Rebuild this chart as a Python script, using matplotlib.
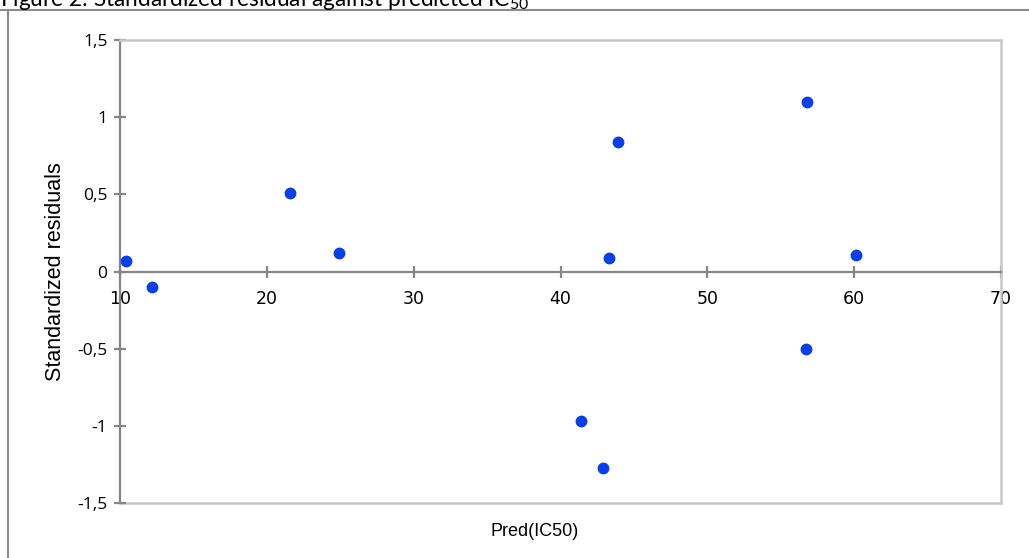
import matplotlib
matplotlib.use("Agg")
import matplotlib.pyplot as plt
from matplotlib.lines import Line2D

pred_ic50 = [10.4, 12.2, 21.6, 24.9, 41.4, 43.3, 42.9, 43.9, 56.8, 56.7, 60.1]
std_resid = [0.07, -0.10, 0.51, 0.12, -0.97, 0.09, -1.27, 0.84, 1.10, -0.50, 0.11]
x_ticks = [10, 20, 30, 40, 50, 60, 70]
y_ticks = [-1.5, -1, -0.5, 0, 0.5, 1, 1.5]
y_tick_labels = ["-1,5", "-1", "-0,5", "0", "0,5", "1", "1,5"]

W, H = 1029, 558
fig = plt.figure(figsize=(W / 100, H / 100), dpi=100)
ax = fig.add_axes([120 / W, 1 - 503 / H, (1001 - 120) / W, (503 - 40) / H])

ax.plot(pred_ic50, std_resid, "o", color="#0a3fe6", markersize=7.5, clip_on=False, zorder=5)

ax.set_xlim(10, 70)
ax.set_ylim(-1.5, 1.5)

axis_grey = "#868686"
border_grey = "#c8c8c8"
ax.spines["bottom"].set_position(("data", 0))
ax.spines["bottom"].set_color(axis_grey)
ax.spines["bottom"].set_linewidth(1.6)
ax.spines["left"].set_color(axis_grey)
ax.spines["left"].set_linewidth(1.6)
ax.spines["top"].set_color(border_grey)
ax.spines["right"].set_color(border_grey)
ax.spines["top"].set_linewidth(1.8)
ax.spines["right"].set_linewidth(1.8)
# bottom border of plot area
ax.plot([0, 1], [0, 0], transform=ax.transAxes, color=border_grey, lw=1.8, clip_on=False, zorder=1)

ax.set_xticks(x_ticks)
ax.set_xticklabels([str(v) for v in x_ticks], fontsize=12.5, family="DejaVu Sans")
ax.set_yticks(y_ticks)
ax.set_yticklabels(y_tick_labels, fontsize=12.5, family="Open Sans")
ax.tick_params(axis="x", direction="inout", length=9, width=1.6, color=axis_grey, pad=9)
ax.tick_params(axis="y", direction="inout", length=8, width=1.6, color=axis_grey, pad=5)

ax.set_ylabel("Standardized residuals", fontsize=15.5, family="Liberation Sans", labelpad=8)
ax.set_xlabel("Pred(IC50)", fontsize=13, family="Liberation Sans")
ax.xaxis.set_label_coords((535 - 120) / (1001 - 120), -(523 - 503) / (503 - 40))

# outer frame lines
fig.add_artist(Line2D([0, 1], [1 - 10 / H, 1 - 10 / H], transform=fig.transFigure, color="#8c8c8c", lw=1.5))
fig.add_artist(Line2D([8 / W, 8 / W], [0, 1 - 10 / H], transform=fig.transFigure, color="#8c8c8c", lw=1.5))

plt.rcParams["mathtext.fontset"] = "custom"
plt.rcParams["mathtext.rm"] = "Lato"
plt.rcParams["mathtext.default"] = "regular"
fig.text(0 / W, 1 - 6 / H, "Figure 2: Standardized residual against predicted IC$_{50}$",
         fontsize=16.3, family="Lato", ha="left", va="baseline")

fig.savefig("out.png", dpi=100)
